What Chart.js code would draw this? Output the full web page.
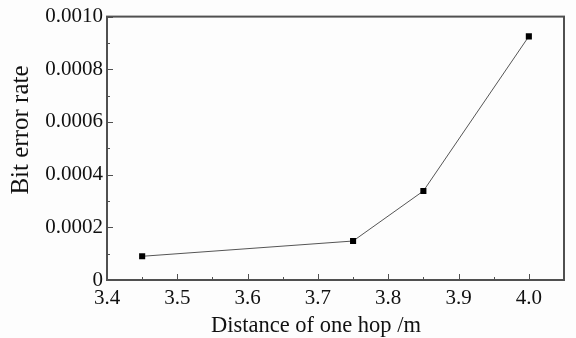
<!DOCTYPE html>
<html lang="en">
<head>
	<meta charset="UTF-8">
	<title>bit error rate</title>
	<style>
		html, body { margin: 0; padding: 0; background: #fdfdfd; }
		#wrap { width: 576px; height: 338px; }
	</style>
</head>
<body>

<div id="wrap"><canvas id="myChart"></canvas></div>

<script src="https://cdn.jsdelivr.net/npm/chart.js@4/dist/chart.umd.min.js"></script>
<script>
// values
var distance = [3.45, 3.75, 3.85, 4.0];
var ber = [0.00009, 0.000148, 0.000338, 0.000925];

var xTicks = [3.4, 3.5, 3.6, 3.7, 3.8, 3.9, 4.0];
var xTickLabels = ['3.4', '3.5', '3.6', '3.7', '3.8', '3.9', '4.0'];
var yTicks = [0, 0.0002, 0.0004, 0.0006, 0.0008, 0.0010];
var yTickLabels = ['0', '0.0002', '0.0004', '0.0006', '0.0008', '0.0010'];

var xTitle = 'Distance of one hop /m';
var yTitle = 'Bit error rate';

var font = "'Liberation Serif', serif";
var axisColor = '#505050';
Chart.defaults.font.family = font;

// inward ticks, box frame and axis titles
var frame = {
	id: 'frame',
	afterDraw: function(chart) {
		var c = chart.ctx, a = chart.chartArea;
		var xs = chart.scales.x, ys = chart.scales.y;
		c.save();
		c.strokeStyle = axisColor;
		c.lineWidth = 2;
		c.strokeRect(a.left, a.top, a.right - a.left, a.bottom - a.top);
		c.lineWidth = 1;
		c.beginPath();
		for (var i = 0; i < xTicks.length; i++) {
			var px = Math.round(xs.getPixelForValue(xTicks[i])) + 0.5;
			c.moveTo(px, a.bottom); c.lineTo(px, a.bottom - 6);
			var mx = Math.round(xs.getPixelForValue(xTicks[i] + 0.05)) + 0.5;
			if (mx < a.right - 2) { c.moveTo(mx, a.bottom); c.lineTo(mx, a.bottom - 3); }
		}
		for (var j = 0; j < yTicks.length; j++) {
			var py = Math.round(ys.getPixelForValue(yTicks[j])) + 0.5;
			c.moveTo(a.left, py); c.lineTo(a.left + 6, py);
			if (j < yTicks.length - 1) {
				var my = Math.round(ys.getPixelForValue(yTicks[j] + 0.0001)) + 0.5;
				c.moveTo(a.left, my); c.lineTo(a.left + 3, my);
			}
		}
		c.stroke();

		c.fillStyle = '#111';
		c.textAlign = 'center';
		c.textBaseline = 'alphabetic';
		c.font = '22.5px ' + font;
		c.fillText(xTitle, 316, 332);
		c.translate(28, 130);
		c.rotate(-Math.PI / 2);
		c.font = '25px ' + font;
		c.fillText(yTitle, 0, 0);
		c.restore();
	}
};

var ctx = document.getElementById('myChart').getContext('2d');
var chart = new Chart(ctx, {
	type: 'scatter',
	data: {
		datasets: [{
			label: yTitle,
			data: distance.map(function(d, i) { return {x: d, y: ber[i]}; }),
			showLine: true,
			borderColor: '#555555',
			borderWidth: 1,
			pointStyle: 'rect',
			pointRadius: 4.3,
			pointBackgroundColor: '#000000',
			pointBorderColor: '#000000',
			pointBorderWidth: 0
		}]
	},
	options: {
		responsive: true,
		maintainAspectRatio: false,
		animation: false,
		layout: { padding: { top: 14, right: 12, left: 0, bottom: 0 } },
		plugins: { legend: { display: false }, tooltip: { enabled: false } },
		scales: {
			x: {
				type: 'linear',
				min: 3.4,
				max: 4.05,
				grid: { display: false, drawTicks: false },
				border: { display: false },
				afterBuildTicks: function(s) { s.ticks = xTicks.map(function(v) { return {value: v}; }); },
				afterFit: function(s) { s.height = 58; },
				ticks: {
					padding: 6,
					color: '#111',
					font: { family: font, size: 21 },
					callback: function(v, i) { return xTickLabels[i]; }
				}
			},
			y: {
				type: 'linear',
				min: 0,
				max: 0.0010,
				grid: { display: false, drawTicks: false },
				border: { display: false },
				afterBuildTicks: function(s) { s.ticks = yTicks.map(function(v) { return {value: v}; }); },
				afterFit: function(s) { s.width = 107; },
				ticks: {
					padding: 4,
					color: '#111',
					font: { family: font, size: 21 },
					callback: function(v, i) { return yTickLabels[i]; }
				}
			}
		}
	},
	plugins: [frame]
});
</script>
</body>
</html>
